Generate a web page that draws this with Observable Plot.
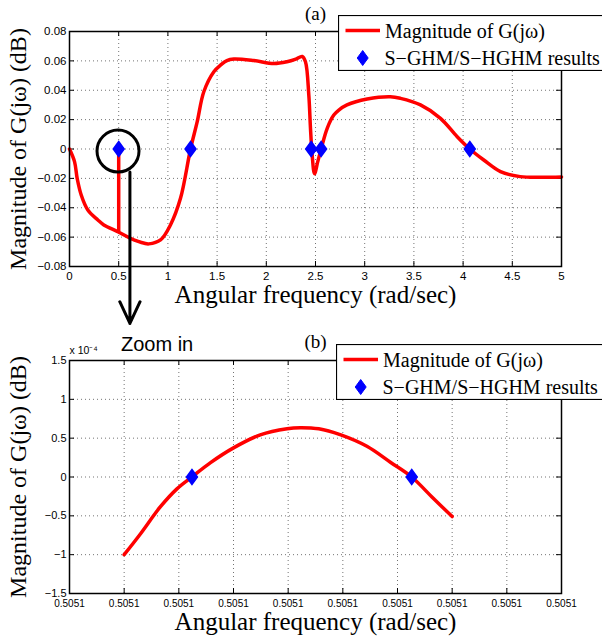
<!DOCTYPE html>
<html><head><meta charset="utf-8">
<script src="https://cdn.jsdelivr.net/npm/d3@7"></script>
<script src="https://cdn.jsdelivr.net/npm/@observablehq/plot@0.6"></script>
<style>
body{margin:0;background:#fff;overflow:hidden;}
#wrap{position:relative;width:602px;height:641px;overflow:hidden;background:#fff;}
#panelA,#panelB{position:absolute;left:0;}
#panelA{top:0;z-index:2;}
#panelB{top:300px;z-index:1;}
.legend{position:absolute;z-index:3;}
</style></head><body><div id="wrap"><div id="panelA"></div><div id="panelB"></div></div>
<script>
// ---------- Panel (a) data ----------
const topFreq = [0, 0.051, 0.078, 0.119, 0.186, 0.288, 0.349, 0.49, 0.62, 0.762, 0.806, 0.925, 1.026, 1.128, 1.23, 1.298, 1.365, 1.467, 1.535, 1.60, 1.67, 1.873, 2.076, 2.21, 2.30, 2.365, 2.398, 2.432, 2.449, 2.466, 2.49, 2.523, 2.557, 2.619, 2.686, 2.737, 2.82, 3.025, 3.26, 3.364, 3.567, 3.77, 3.94, 4.068, 4.21, 4.38, 4.58, 4.79, 5.0];
const topMag = [0, -0.0086, -0.020, -0.0313, -0.0415, -0.0483, -0.0517, -0.0563, -0.0608, -0.0642, -0.0646, -0.0619, -0.0517, -0.0336, 0, 0.0186, 0.039, 0.0526, 0.0571, 0.0602, 0.0612, 0.0602, 0.0582, 0.0594, 0.0612, 0.063, 0.0594, 0.0367, 0.0141, -0.004, -0.0168, -0.0086, 0, 0.0141, 0.0231, 0.0265, 0.030, 0.034, 0.0356, 0.0345, 0.030, 0.0209, 0.0084, 0, -0.0075, -0.0154, -0.0188, -0.0193, -0.019];
const topHitsFreq = [0.5, 1.23, 2.456, 2.557, 4.068];
const topHitsMag = [0, 0, 0, 0, 0];
const spikeFreq = [0.5];
const spikeTop = [0];
const spikeBottom = [-0.0565];
const topXTicks = [0, 0.5, 1, 1.5, 2, 2.5, 3, 3.5, 4, 4.5, 5];
const topXLabels = ["0", "0.5", "1", "1.5", "2", "2.5", "3", "3.5", "4", "4.5", "5"];
const topYTicks = [-0.08, -0.06, -0.04, -0.02, 0, 0.02, 0.04, 0.06, 0.08];
const topYLabels = ["\u22120.08", "\u22120.06", "\u22120.04", "\u22120.02", "0", "0.02", "0.04", "0.06", "0.08"];

// ---------- Panel (b) data (magnitude in units of 1e-4 dB) ----------
const botFreq = [0.505096, 0.5050963, 0.50509666, 0.50509697, 0.50509724, 0.50509758, 0.505098, 0.50509849, 0.50509898, 0.50509922, 0.50509956, 0.50509995, 0.50510044, 0.50510087, 0.50510126, 0.50510163, 0.505102];
const botMag = [-1.0, -0.73, -0.386, -0.15, 0, 0.185, 0.375, 0.543, 0.622, 0.635, 0.62, 0.545, 0.395, 0.19, 0, -0.257, -0.51];
const botHitsFreq = [0.50509724, 0.50510126];
const botHitsMag = [0, 0];
const botXTicks = [0.505095, 0.505096, 0.505097, 0.505098, 0.505099, 0.5051, 0.505101, 0.505102, 0.505103, 0.505104];
const botXLabels = ["0.5051", "0.5051", "0.5051", "0.5051", "0.5051", "0.5051", "0.5051", "0.5051", "0.5051", "0.5051"];
const botYTicks = [-1.5, -1, -0.5, 0, 0.5, 1, 1.5];
const botYLabels = ["\u22121.5", "\u22121", "\u22120.5", "0", "0.5", "1", "1.5"];

const seriesLabels = ["Magnitude of G(j\u03c9)", "S\u2212GHM/S\u2212HGHM results"];
const xTitle = "Angular frequency (rad/sec)";
const yTitle = "Magnitude of G(j\u03c9) (dB)";

const RED = "#ff0000", BLUE = "#0000ff";
const SANS = "'Liberation Sans', Arial, Helvetica, sans-serif";
const SERIF = "'Liberation Serif', 'Times New Roman', serif";

const diamond = {
  draw(ctx, size) {
    const r = Math.sqrt(size / Math.PI);
    const w = r * 0.73;
    ctx.moveTo(0, -r); ctx.lineTo(w, 0); ctx.lineTo(0, r); ctx.lineTo(-w, 0); ctx.closePath();
  }
};

const topLine = topFreq.map((f, i) => ({f, m: topMag[i]}));
const topHits = topHitsFreq.map((f, i) => ({f, m: topHitsMag[i]}));
const spike = spikeFreq.map((f, i) => ({f, y1: spikeTop[i], y2: spikeBottom[i]}));
const botLine = botFreq.map((f, i) => ({f, m: botMag[i]}));
const botHits = botHitsFreq.map((f, i) => ({f, m: botHitsMag[i]}));

// annotation: circle around first result and arrow toward zoom panel
const circleAnno = [{f: 0.493, m: -0.0014}];
const arrowAnno = [{f: 0.614, y1: -0.0156, y2: -0.1188}];

function panelMarks(opts) {
  const {xTicks, xLabels, yTicks, yLabels, innerH, innerW, xFont, yFont, xPad} = opts;
  return [
    Plot.gridX(xTicks, {stroke: "#000", strokeOpacity: 0.55, strokeDasharray: "1,3", strokeWidth: 1}),
    Plot.gridY(yTicks, {stroke: "#000", strokeOpacity: 0.55, strokeDasharray: "1,3", strokeWidth: 1}),
    Plot.tickX(xTicks, {x: d => d, insetTop: innerH - 5, stroke: "#000", strokeWidth: 1}),
    Plot.tickX(xTicks, {x: d => d, insetBottom: innerH - 5, stroke: "#000", strokeWidth: 1}),
    Plot.tickY(yTicks, {y: d => d, insetRight: innerW - 5, stroke: "#000", strokeWidth: 1}),
    Plot.tickY(yTicks, {y: d => d, insetLeft: innerW - 5, stroke: "#000", strokeWidth: 1}),
    Plot.axisX(xTicks, {tickSize: 0, tickPadding: xPad, tickFormat: d => xLabels[xTicks.indexOf(d)], fontSize: xFont, fontFamily: SANS, fill: "#000"}),
    Plot.axisY(yTicks, {tickSize: 0, tickPadding: 3, tickFormat: d => yLabels[yTicks.indexOf(d)], fontSize: yFont, fontFamily: SANS, fill: "#000"}),
    Plot.text([xTitle], {text: d => d, frameAnchor: "bottom", lineAnchor: "middle", dy: 28, fontSize: 25, fontFamily: SERIF, fill: "#000"}),
    Plot.text([yTitle], {text: d => d, frameAnchor: "left", textAnchor: "middle", lineAnchor: "middle", dx: -51, rotate: -90, fontSize: 24, fontFamily: SERIF, fill: "#000"})
  ];
}

const chartA = Plot.plot({
  width: 602, height: 300,
  marginLeft: 69, marginRight: 41, marginTop: 31, marginBottom: 34,
  style: {overflow: "visible", background: "transparent", color: "#000", fontFamily: SANS},
  x: {domain: [0, 5], label: null, axis: null},
  y: {domain: [-0.08, 0.08], label: null, axis: null},
  marks: [
    ...panelMarks({xTicks: topXTicks, xLabels: topXLabels, yTicks: topYTicks, yLabels: topYLabels, innerH: 235, innerW: 492, xFont: 11.5, yFont: 11.5, xPad: 5}),
    Plot.line(topLine, {x: "f", y: "m", stroke: RED, strokeWidth: 3.5, curve: "catmull-rom"}),
    Plot.ruleX(spike, {x: "f", y1: "y1", y2: "y2", stroke: RED, strokeWidth: 3.5}),
    Plot.dot(topHits, {x: "f", y: "m", symbol: diamond, r: 7.5, fill: BLUE, stroke: BLUE}),
    Plot.frame({stroke: "#000", strokeWidth: 1.5}),
    Plot.dot(circleAnno, {x: "f", y: "m", r: 21, stroke: "#000", strokeWidth: 3, fill: "none"}),
    Plot.arrow(arrowAnno, {x1: "f", x2: "f", y1: "y1", y2: "y2", stroke: "#000", strokeWidth: 3, headLength: 12, headAngle: 50}),
    Plot.text(["(a)"], {text: d => d, frameAnchor: "top", lineAnchor: "middle", dy: -18, fontSize: 19, fontFamily: SERIF, fill: "#000"})
  ]
});
document.getElementById("panelA").appendChild(chartA);

const chartB = Plot.plot({
  width: 602, height: 341,
  marginLeft: 69, marginRight: 41, marginTop: 60, marginBottom: 48,
  style: {overflow: "visible", background: "transparent", color: "#000", fontFamily: SANS},
  x: {domain: [0.505095, 0.505104], label: null, axis: null},
  y: {domain: [-1.5, 1.5], label: null, axis: null},
  marks: [
    ...panelMarks({xTicks: botXTicks, xLabels: botXLabels, yTicks: botYTicks, yLabels: botYLabels, innerH: 233, innerW: 492, xFont: 10, yFont: 11, xPad: 6}),
    Plot.line(botLine, {x: "f", y: "m", stroke: RED, strokeWidth: 3.5, curve: "catmull-rom"}),
    Plot.dot(botHits, {x: "f", y: "m", symbol: diamond, r: 7.5, fill: BLUE, stroke: BLUE}),
    Plot.frame({stroke: "#000", strokeWidth: 1.5}),
    Plot.text(["x 10\u207b\u2074"], {text: d => d, frameAnchor: "top-left", textAnchor: "start", lineAnchor: "middle", dy: -10, fontSize: 10.5, fontFamily: SANS, fill: "#000"}),
    Plot.text(["Zoom in"], {text: d => d, frameAnchor: "top-left", textAnchor: "start", lineAnchor: "middle", dx: 51.5, dy: -16, fontSize: 20, fontFamily: SANS, fill: "#000"}),
    Plot.text(["(b)"], {text: d => d, frameAnchor: "top", lineAnchor: "middle", dy: -18.5, fontSize: 19, fontFamily: SERIF, fill: "#000"})
  ]
});
document.getElementById("panelB").appendChild(chartB);

// ---------- Legends ----------
function legend(left, topY) {
  const w = 272, h = 56;
  const svg = d3.create("svg").attr("class", "legend").attr("width", w).attr("height", h)
    .style("left", left + "px").style("top", topY + "px");
  svg.append("rect").attr("x", 0.5).attr("y", 0.5).attr("width", w - 1).attr("height", h - 1)
    .attr("fill", "#fff").attr("stroke", "#000").attr("stroke-width", 1.2);
  svg.append("line").attr("x1", 7.5).attr("x2", 42).attr("y1", 15.5).attr("y2", 15.5)
    .attr("stroke", RED).attr("stroke-width", 3.5);
  svg.append("path").attr("d", d3.symbol(diamond, Math.PI * 7.5 * 7.5)())
    .attr("transform", "translate(24.7,43)").attr("fill", BLUE).attr("stroke", BLUE);
  const t = svg.append("g").style("font-family", SERIF).style("font-size", "20px").attr("fill", "#000");
  t.append("text").attr("x", 47).attr("y", 22.5).text(seriesLabels[0]);
  t.append("text").attr("x", 46.5).attr("y", 49.5).text(seriesLabels[1]);
  document.getElementById("wrap").appendChild(svg.node());
}
legend(338, 15);
legend(336, 344);
</script>
</body></html>
